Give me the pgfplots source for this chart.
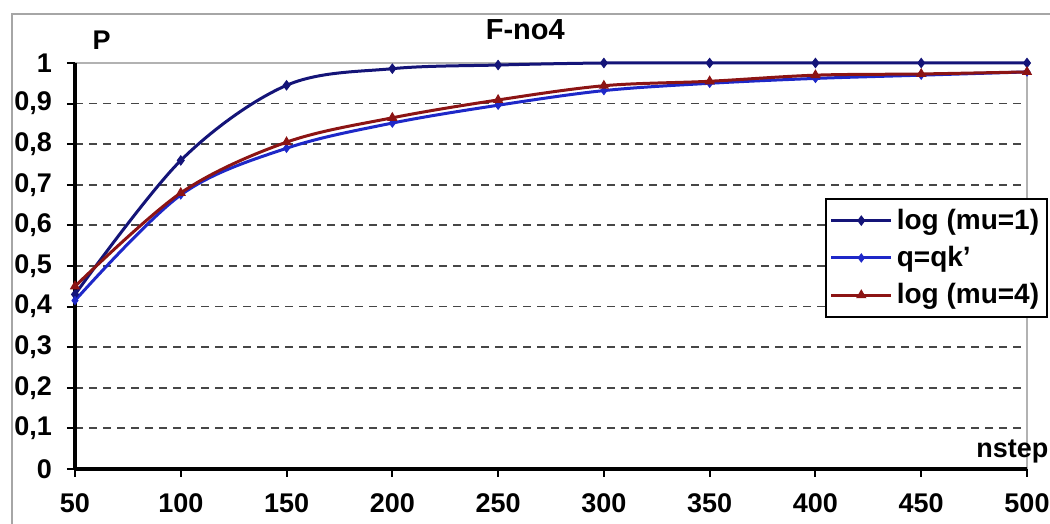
\documentclass[border=0pt]{standalone}
\usepackage{pgfplots}
\pgfplotsset{compat=1.18}
\usepackage{fontspec}
\setmainfont{Liberation Sans}

\definecolor{navyline}{RGB}{20,20,120}
\definecolor{blueline}{RGB}{30,40,200}
\definecolor{redline}{RGB}{140,20,20}
\definecolor{gridgray}{RGB}{70,70,70}

\pgfplotstableread{
n    mua    qk     mub
50   0.430  0.415  0.450
100  0.760  0.675  0.680
150  0.945  0.790  0.805
200  0.986  0.852  0.865
250  0.995  0.896  0.909
300  1.000  0.932  0.944
350  1.000  0.950  0.955
400  1.000  0.962  0.970
450  1.000  0.970  0.973
500  1.000  0.978  0.978
}\datatable

\begin{document}
\begin{tikzpicture}
\useasboundingbox (-37.5pt,-27.5pt) rectangle (487.5pt,234.5pt);
% outer chart frame
\draw[gray!70, line width=0.8pt] (-31.5pt,-40pt) rectangle (500pt,227.5pt);
\begin{axis}[
  scale only axis,
  width=476pt, height=203pt,
  xmin=50, xmax=500, ymin=0, ymax=1,
  xtick={50,100,...,500},
  ytick={0,0.1,...,1},
  axis line style={draw=none},
  ymajorgrids,
  grid style={gridgray, line width=0.9pt, dash pattern=on 4pt off 3pt},
  tick style={black, line width=1pt},
  tick align=outside,
  major tick length=4pt,
  xtick pos=bottom, ytick pos=left,
  /pgf/number format/assume math mode=true,
  /pgf/number format/use comma,
  /pgf/number format/fixed,
  tick label style={font=\bfseries\fontsize{13.5}{15}\selectfont},
  xticklabel style={yshift=-5pt},
  yticklabel style={xshift=-4pt},
  title={F-no4},
  title style={at={(axis description cs:0.473,1.052)}, anchor=center, font=\bfseries\fontsize{14.5}{16}\selectfont},
  xlabel={nstep},
  xlabel style={at={(axis description cs:1.03,0.044)}, anchor=east, font=\bfseries\fontsize{13.5}{15}\selectfont},
  ylabel={P},
  ylabel style={at={(axis description cs:0.028,1.057)}, anchor=center, rotate=-90, font=\bfseries\fontsize{13.5}{15}\selectfont},
  legend style={at={(axis description cs:1.022,0.667)}, anchor=north east,
    draw=black, line width=0.8pt, fill=white,
    font=\bfseries\fontsize{14}{16}\selectfont,
    inner xsep=2pt, inner ysep=3pt, row sep=3pt},
  legend cell align=left,
  legend image code/.code={\draw[mark repeat=2, mark phase=2, #1] plot coordinates {(0pt,0pt) (15pt,0pt) (30pt,0pt)};},
  every axis plot/.append style={smooth, tension=0.55, line width=1.5pt},
  clip=false,
]
% plot area edges
\draw[gray!60, line width=0.8pt] (rel axis cs:0,1) -- (rel axis cs:1,1) -- (rel axis cs:1,0);
\draw[black, line width=1.6pt] (rel axis cs:0,0) -- (rel axis cs:0,1);
\draw[black, line width=2pt] (rel axis cs:0,0) -- (rel axis cs:1,0);

\addplot[navyline, mark=diamond*, mark size=2.3pt, mark options={solid, line width=0.5pt}] table[x=n, y=mua] {\datatable};
\addlegendentry{log (mu=1)}
\addplot[blueline, mark=diamond*, mark size=2.0pt, mark options={solid, line width=0.5pt}] table[x=n, y=qk] {\datatable};
\addlegendentry{q=qk'}
\addplot[redline, mark=triangle*, mark size=2.5pt, mark options={solid, line width=0.5pt}] table[x=n, y=mub] {\datatable};
\addlegendentry{log (mu=4)}
\end{axis}
\end{tikzpicture}
\end{document}
